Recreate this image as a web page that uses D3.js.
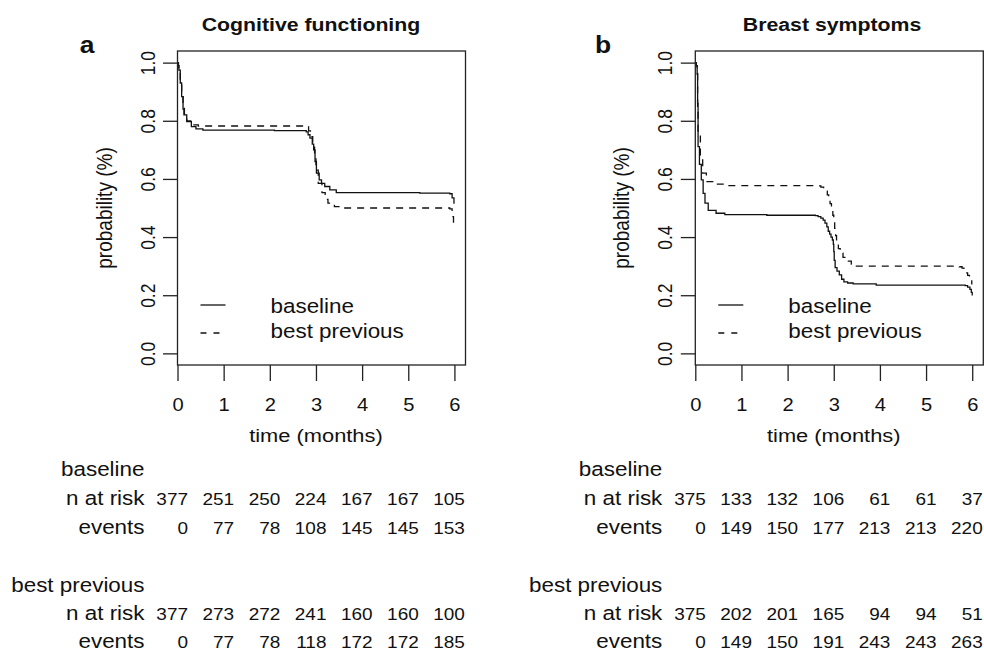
<!DOCTYPE html>
<html>
<head>
<meta charset="utf-8">
<script src="https://cdn.jsdelivr.net/npm/d3@7"></script>
<style>
  body { margin: 0; background: #fff; }
  svg { display: block; font-family: "Liberation Sans", Arial, Helvetica, sans-serif; }
  .box { fill: none; stroke: #222; stroke-width: 1.3; }
  .tick line { stroke: #222; stroke-width: 1.3; }
  .curve { fill: none; stroke: #111; stroke-width: 1.3; }
</style>
</head>
<body>
<script>
//time axis ticks (months) and probability ticks
var months = [0, 1, 2, 3, 4, 5, 6];
var probTicks = [0, 0.2, 0.4, 0.6, 0.8, 1.0];

//Kaplan-Meier curves, [time, probability]
var cogBaseline = [[0,1],[0.02,0.99],[0.03,0.974],[0.06,0.93],[0.09,0.883],[0.12,0.84],[0.14,0.82],
    [0.2,0.797],[0.3,0.78],[0.4,0.772],[0.55,0.768],[2.1,0.766],[2.79,0.762],[2.83,0.752],[2.87,0.74],
    [2.92,0.72],[2.95,0.70],[2.98,0.66],[3.01,0.62],[3.07,0.597],[3.12,0.585],[3.19,0.574],[3.3,0.562],
    [3.44,0.553],[5.25,0.551],[5.9,0.549],[5.95,0.535],[5.99,0.515]];
var cogBest = [[0,1],[0.02,0.99],[0.03,0.974],[0.06,0.93],[0.09,0.883],[0.12,0.845],[0.15,0.818],
    [0.2,0.80],[0.33,0.786],[0.45,0.782],[2.8,0.78],[2.84,0.765],[2.88,0.745],[2.93,0.715],[2.97,0.68],
    [3.0,0.63],[3.05,0.585],[3.13,0.553],[3.2,0.53],[3.26,0.517],[3.4,0.505],[3.55,0.50],[5.9,0.497],
    [5.95,0.47],[5.98,0.443]];
var breBaseline = [[0,1],[0.02,0.99],[0.04,0.963],[0.05,0.85],[0.06,0.711],[0.09,0.65],[0.13,0.597],
    [0.17,0.55],[0.21,0.517],[0.28,0.492],[0.45,0.482],[0.64,0.477],[1.55,0.475],[2.6,0.474],[2.66,0.47],
    [2.72,0.465],[2.77,0.458],[2.81,0.448],[2.85,0.435],[2.88,0.42],[2.91,0.41],[2.94,0.40],[2.97,0.39],
    [2.99,0.375],[3.0,0.35],[3.01,0.32],[3.03,0.295],[3.07,0.283],[3.12,0.27],[3.17,0.255],[3.22,0.246],
    [3.3,0.242],[3.42,0.239],[3.92,0.235],[5.85,0.233],[5.9,0.228],[5.95,0.22],[5.98,0.21],[6.0,0.199]];
var breBest = [[0,1],[0.02,0.99],[0.04,0.96],[0.05,0.86],[0.06,0.757],[0.11,0.677],[0.16,0.62],
    [0.24,0.591],[0.4,0.582],[0.68,0.577],[2.65,0.576],[2.72,0.572],[2.78,0.566],[2.82,0.558],[2.86,0.545],
    [2.89,0.53],[2.92,0.515],[2.95,0.495],[2.98,0.475],[3.0,0.455],[3.02,0.43],[3.04,0.405],[3.06,0.38],
    [3.1,0.36],[3.14,0.345],[3.2,0.33],[3.28,0.317],[3.38,0.307],[3.49,0.30],[5.72,0.298],[5.78,0.293],
    [5.82,0.285],[5.86,0.277],[5.9,0.268],[5.94,0.255],[5.99,0.237]];

//risk tables
var cogRiskBase = [377, 251, 250, 224, 167, 167, 105];
var cogEventsBase = [0, 77, 78, 108, 145, 145, 153];
var cogRiskBest = [377, 273, 272, 241, 160, 160, 100];
var cogEventsBest = [0, 77, 78, 118, 172, 172, 185];
var breRiskBase = [375, 133, 132, 106, 61, 61, 37];
var breEventsBase = [0, 149, 150, 177, 213, 213, 220];
var breRiskBest = [375, 202, 201, 165, 94, 94, 51];
var breEventsBest = [0, 149, 150, 191, 243, 243, 263];

var width = 984,
    height = 659,
    sx = 1.15; //text in the picture is a bit wide

var svg = d3.select("body")
    .append("svg")
    .attr("width", width)
    .attr("height", height);

svg.append("rect").attr("width", width).attr("height", height).attr("fill", "#fff");

//put a text with the horizontal stretch
function label(g, x, y, str, size, anchor, weight, rotate){
    return g.append("text")
        .attr("transform", "translate(" + x + "," + y + ") scale(" + sx + ",1)" + (rotate ? " rotate(-90)" : ""))
        .attr("text-anchor", anchor)
        .attr("font-size", size)
        .attr("font-weight", weight || "normal")
        .attr("fill", "#111")
        .text(str);
}

var panels = [
    {left: 177.5, title: "Cognitive functioning", titleX: 311, letter: "a", letterX: 87,
     base: cogBaseline, best: cogBest,
     rows: [cogRiskBase, cogEventsBase, cogRiskBest, cogEventsBest]},
    {left: 695.3, title: "Breast symptoms", titleX: 832, letter: "b", letterX: 603,
     base: breBaseline, best: breBest,
     rows: [breRiskBase, breEventsBase, breRiskBest, breEventsBest]}
];

panels.forEach(function(p){
    var g = svg.append("g");

    var x = d3.scaleLinear()
        .domain([0, 6.24])
        .range([p.left, p.left + 288]);

    var y = d3.scaleLinear()
        .domain([-0.04, 1.04])
        .range([365, 51]);

    //km curves
    var line = d3.line()
        .x(function(d){ return x(d[0]); })
        .y(function(d){ return y(d[1]); })
        .curve(d3.curveStepAfter);

    g.append("path").datum(p.base).attr("class", "curve").attr("d", line);
    g.append("path").datum(p.best).attr("class", "curve").attr("stroke-dasharray", "7,6").attr("d", line);

    //plot box
    g.append("rect")
        .attr("class", "box")
        .attr("x", x.range()[0]).attr("y", y.range()[1])
        .attr("width", x.range()[1] - x.range()[0])
        .attr("height", y.range()[0] - y.range()[1]);

    //x axis
    var xAxis = g.append("g")
        .attr("transform", "translate(0,365)")
        .call(d3.axisBottom(x).tickValues(months).tickSize(16).tickFormat(d3.format("d")));
    xAxis.select(".domain").remove();
    xAxis.selectAll("text")
        .attr("y", 46).attr("dy", null)
        .attr("transform", "scale(" + sx + ",1)")
        .attr("font-size", 17.5)
        .attr("font-family", null)
        .attr("fill", "#111");

    //y axis with rotated labels
    var yAxis = g.append("g")
        .attr("transform", "translate(" + p.left + ",0)")
        .call(d3.axisLeft(y).tickValues(probTicks).tickSize(14.5).tickFormat(d3.format(".1f")));
    yAxis.select(".domain").remove();
    yAxis.selectAll("text")
        .attr("x", null).attr("dy", null)
        .attr("text-anchor", "middle")
        .attr("transform", "translate(-23,0) scale(" + sx + ",1) rotate(-90)")
        .attr("font-size", 17.5)
        .attr("font-family", null)
        .attr("fill", "#111");

    //titles and axis labels
    label(g, p.titleX, 31, p.title, 18.5, "middle", "bold");
    label(g, p.letterX, 53, p.letter, 23, "middle", "bold");
    label(g, x(3), 442, "time (months)", 19, "middle");
    label(g, p.left - 66, y(0.5), "probability (%)", 19, "middle", null, true);

    //legend
    g.append("line").attr("class", "curve")
        .attr("x1", p.left + 23).attr("x2", p.left + 48).attr("y1", 305).attr("y2", 305);
    g.append("line").attr("class", "curve").attr("stroke-dasharray", "6,7")
        .attr("x1", p.left + 23).attr("x2", p.left + 48).attr("y1", 333).attr("y2", 333);
    label(g, p.left + 93, 312.5, "baseline", 19.5, "start");
    label(g, p.left + 93, 338, "best previous", 19.5, "start");

    //number at risk table
    var labelX = p.left - 33;
    var rowY = [505, 534, 620, 648];
    label(g, labelX, 476, "baseline", 19.5, "end");
    label(g, labelX, rowY[0], "n at risk", 19.5, "end");
    label(g, labelX, rowY[1], "events", 19.5, "end");
    label(g, labelX, 592, "best previous", 19.5, "end");
    label(g, labelX, rowY[2], "n at risk", 19.5, "end");
    label(g, labelX, rowY[3], "events", 19.5, "end");

    p.rows.forEach(function(row, i){
        row.forEach(function(v, j){
            label(g, x(months[j]) + 10.5, rowY[i], v, 16.5, "end");
        });
    });
});
</script>
</body>
</html>
